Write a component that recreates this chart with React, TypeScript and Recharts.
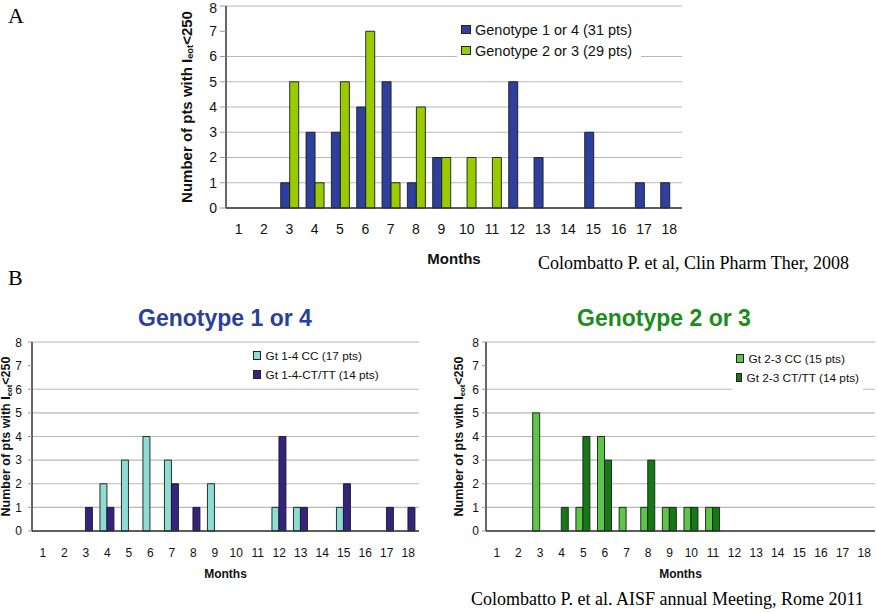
import React from "react";
import {
  BarChart,
  Bar,
  XAxis,
  YAxis,
  CartesianGrid,
  Legend,
} from "recharts";

// month categories shared by all three panels
const months = ["1", "2", "3", "4", "5", "6", "7", "8", "9", "10", "11", "12", "13", "14", "15", "16", "17", "18"];

// panel A
const gt14All = [0, 0, 1, 3, 3, 4, 5, 1, 2, 0, 0, 5, 2, 0, 3, 0, 1, 1];
const gt23All = [0, 0, 5, 1, 5, 7, 1, 4, 2, 2, 2, 0, 0, 0, 0, 0, 0, 0];

// panel B, genotype 1 or 4
const gt14CC = [0, 0, 0, 2, 3, 4, 3, 0, 2, 0, 0, 1, 1, 0, 1, 0, 0, 0];
const gt14CT = [0, 0, 1, 1, 0, 0, 2, 1, 0, 0, 0, 4, 1, 0, 2, 0, 1, 1];

// panel B, genotype 2 or 3
const gt23CC = [0, 0, 5, 0, 1, 4, 1, 1, 1, 1, 1, 0, 0, 0, 0, 0, 0, 0];
const gt23CT = [0, 0, 0, 1, 4, 3, 0, 3, 1, 1, 1, 0, 0, 0, 0, 0, 0, 0];

const yTicks = [0, 1, 2, 3, 4, 5, 6, 7, 8];

const SANS = "'Liberation Sans', Arial, sans-serif";
const SERIF = "'Liberation Serif', 'Times New Roman', serif";

/* eslint-disable @typescript-eslint/no-explicit-any */
function YLabel({ viewBox, lx, fs }: any) {
  const cy = viewBox ? viewBox.y + viewBox.height / 2 : 100;
  return (
    <text
      x={lx}
      y={cy}
      transform={`rotate(-90, ${lx}, ${cy})`}
      textAnchor="middle"
      dominantBaseline="central"
      fontFamily={SANS}
      fontWeight="bold"
      fontSize={fs}
      fill="#111"
    >
      Number of pts with I
      <tspan fontSize={fs * 0.62} dy={fs * 0.25}>eot</tspan>
      <tspan dy={-fs * 0.25}>&lt;250</tspan>
    </text>
  );
}

function makeLegend(items: { color: string; label: string }[], fs: number, rowH: number) {
  return function LegendBox() {
    return (
      <div style={{ background: "#fff", padding: "3px 4px", fontFamily: SANS, fontSize: fs, color: "#111" }}>
        {items.map((it) => (
          <div key={it.label} style={{ display: "flex", alignItems: "center", height: rowH, whiteSpace: "nowrap" }}>
            <span
              style={{
                width: fs * 0.55,
                height: fs * 0.55,
                background: it.color,
                border: "1px solid #222",
                marginRight: 4,
                display: "inline-block",
              }}
            ></span>
            <span>{it.label}</span>
          </div>
        ))}
      </div>
    );
  };
}
/* eslint-enable @typescript-eslint/no-explicit-any */

interface PanelProps {
  a: number[];
  b: number[];
  nameA: string;
  nameB: string;
  colorA: string;
  colorB: string;
  width: number;
  height: number;
  margin: { top: number; right: number; left: number; bottom: number };
  yWidth: number;
  xHeight: number;
  fs: number;
  labelX: number;
  labelFs: number;
  monthsFs: number;
  tickSize: number;
  tickMargin: number;
  xTickMargin: number;
  monthsOffset: number;
  legendPos: { left: number; top: number; width: number };
  legendRow: number;
  legendFs: number;
}

function Panel(p: PanelProps) {
  const data = months.map((m, i) => ({ month: m, a: p.a[i], b: p.b[i] }));
  const LegendBox = makeLegend(
    [
      { color: p.colorA, label: p.nameA },
      { color: p.colorB, label: p.nameB },
    ],
    p.legendFs,
    p.legendRow
  );
  return (
    <BarChart
      width={p.width}
      height={p.height}
      data={data}
      margin={p.margin}
      barCategoryGap="16%"
      barGap={0}
    >
      <CartesianGrid vertical={false} stroke="#b8b8b8" strokeWidth={1.2} />
      <XAxis
        dataKey="month"
        height={p.xHeight}
        tickLine={false}
        tickSize={0}
        tickMargin={p.xTickMargin}
        axisLine={{ stroke: "#333", strokeWidth: 1.5 }}
        tick={{ fontSize: p.fs, fill: "#111", fontFamily: SANS }}
        interval={0}
        label={{
          value: "Months",
          position: "insideBottom",
          offset: p.monthsOffset,
          style: { fontSize: p.monthsFs, fontWeight: "bold", fill: "#111", fontFamily: SANS },
        }}
      />
      <XAxis xAxisId="top" orientation="top" dataKey="month" height={0} tick={false} tickLine={false} axisLine={{ stroke: "#444", strokeWidth: 1.2 }} />
      <YAxis
        domain={[0, 8]}
        ticks={yTicks}
        width={p.yWidth}
        tickSize={p.tickSize}
        tickMargin={p.tickMargin}
        tickLine={{ stroke: "#999" }}
        axisLine={{ stroke: "#333", strokeWidth: 1.5 }}
        tick={{ fontSize: p.fs, fill: "#111", fontFamily: SANS }}
        label={<YLabel lx={p.labelX} fs={p.labelFs} />}
      />
      <YAxis yAxisId="right" orientation="right" width={0} tick={false} tickLine={false} axisLine={{ stroke: "#444", strokeWidth: 1.2 }} />
      <Legend
        layout="vertical"
        align="center"
        verticalAlign="middle"
        content={<LegendBox />}
        wrapperStyle={{ left: p.legendPos.left, top: p.legendPos.top, width: p.legendPos.width }}
      />
      <Bar dataKey="a" name={p.nameA} fill={p.colorA} stroke="#1a1a1a" strokeWidth={0.9} isAnimationActive={false} />
      <Bar dataKey="b" name={p.nameB} fill={p.colorB} stroke="#1a1a1a" strokeWidth={0.9} isAnimationActive={false} />
    </BarChart>
  );
}

export default function App() {
  return (
    <div style={{ position: "absolute", left: 0, top: 0, width: 877, height: 613, background: "#fff", overflow: "hidden" }}>
      <div style={{ position: "absolute", left: 8, top: 3, fontFamily: SERIF, fontSize: 22 }}>A</div>
      <div style={{ position: "absolute", left: 8, top: 265, fontFamily: SERIF, fontSize: 22 }}>B</div>

      {/* panel A */}
      <div style={{ position: "absolute", left: 170, top: 0 }}>
        <Panel
          a={gt14All}
          b={gt23All}
          nameA="Genotype 1 or 4 (31 pts)"
          nameB="Genotype 2 or 3 (29 pts)"
          colorA="#2E3F9E"
          colorB="#99CC00"
          width={520}
          height={268}
          margin={{ top: 6, right: 8, left: 0, bottom: 0 }}
          yWidth={56}
          xHeight={60}
          fs={14}
          labelX={16}
          labelFs={15}
          monthsFs={15}
          tickSize={6}
          tickMargin={3}
          xTickMargin={16}
          monthsOffset={4}
          legendPos={{ left: 287, top: 16, width: 184 }}
          legendRow={21}
          legendFs={14.5}
        />
      </div>
      <div style={{ position: "absolute", left: 538, top: 253, fontFamily: SERIF, fontSize: 18, whiteSpace: "nowrap" }}>
        Colombatto P. et al, Clin Pharm Ther, 2008
      </div>

      {/* panel B titles */}
      <div style={{ position: "absolute", left: 0, width: 450, top: 305, textAlign: "center", fontFamily: SANS, fontWeight: "bold", fontSize: 23, color: "#2B3FA0" }}>
        Genotype 1 or 4
      </div>
      <div style={{ position: "absolute", left: 440, width: 448, top: 305, textAlign: "center", fontFamily: SANS, fontWeight: "bold", fontSize: 23, color: "#1C8C1C" }}>
        Genotype 2 or 3
      </div>

      {/* panel B left */}
      <div style={{ position: "absolute", left: 0, top: 335 }}>
        <Panel
          a={gt14CC}
          b={gt14CT}
          nameA="Gt 1-4 CC (17 pts)"
          nameB="Gt 1-4-CT/TT (14 pts)"
          colorA="#8EDDD4"
          colorB="#35237F"
          width={430}
          height={250}
          margin={{ top: 7, right: 11, left: 0, bottom: 0 }}
          yWidth={32}
          xHeight={54}
          fs={12}
          labelX={6}
          labelFs={12.5}
          monthsFs={12}
          tickSize={4}
          tickMargin={6}
          xTickMargin={17}
          monthsOffset={7}
          legendPos={{ left: 249, top: 8, width: 134 }}
          legendRow={19}
          legendFs={11.8}
        />
      </div>

      {/* panel B right */}
      <div style={{ position: "absolute", left: 440, top: 335 }}>
        <Panel
          a={gt23CC}
          b={gt23CT}
          nameA="Gt 2-3 CC (15 pts)"
          nameB="Gt 2-3 CT/TT (14 pts)"
          colorA="#5EC44A"
          colorB="#157A15"
          width={437}
          height={250}
          margin={{ top: 7, right: 2, left: 0, bottom: 0 }}
          yWidth={46}
          xHeight={54}
          fs={12}
          labelX={19}
          labelFs={12.5}
          monthsFs={12}
          tickSize={4}
          tickMargin={3}
          xTickMargin={17}
          monthsOffset={7}
          legendPos={{ left: 292, top: 11, width: 131 }}
          legendRow={19}
          legendFs={11.8}
        />
      </div>
      <div style={{ position: "absolute", left: 471, top: 589, fontFamily: SERIF, fontSize: 18, whiteSpace: "nowrap" }}>
        Colombatto P. et al. AISF annual Meeting, Rome 2011
      </div>
    </div>
  );
}
